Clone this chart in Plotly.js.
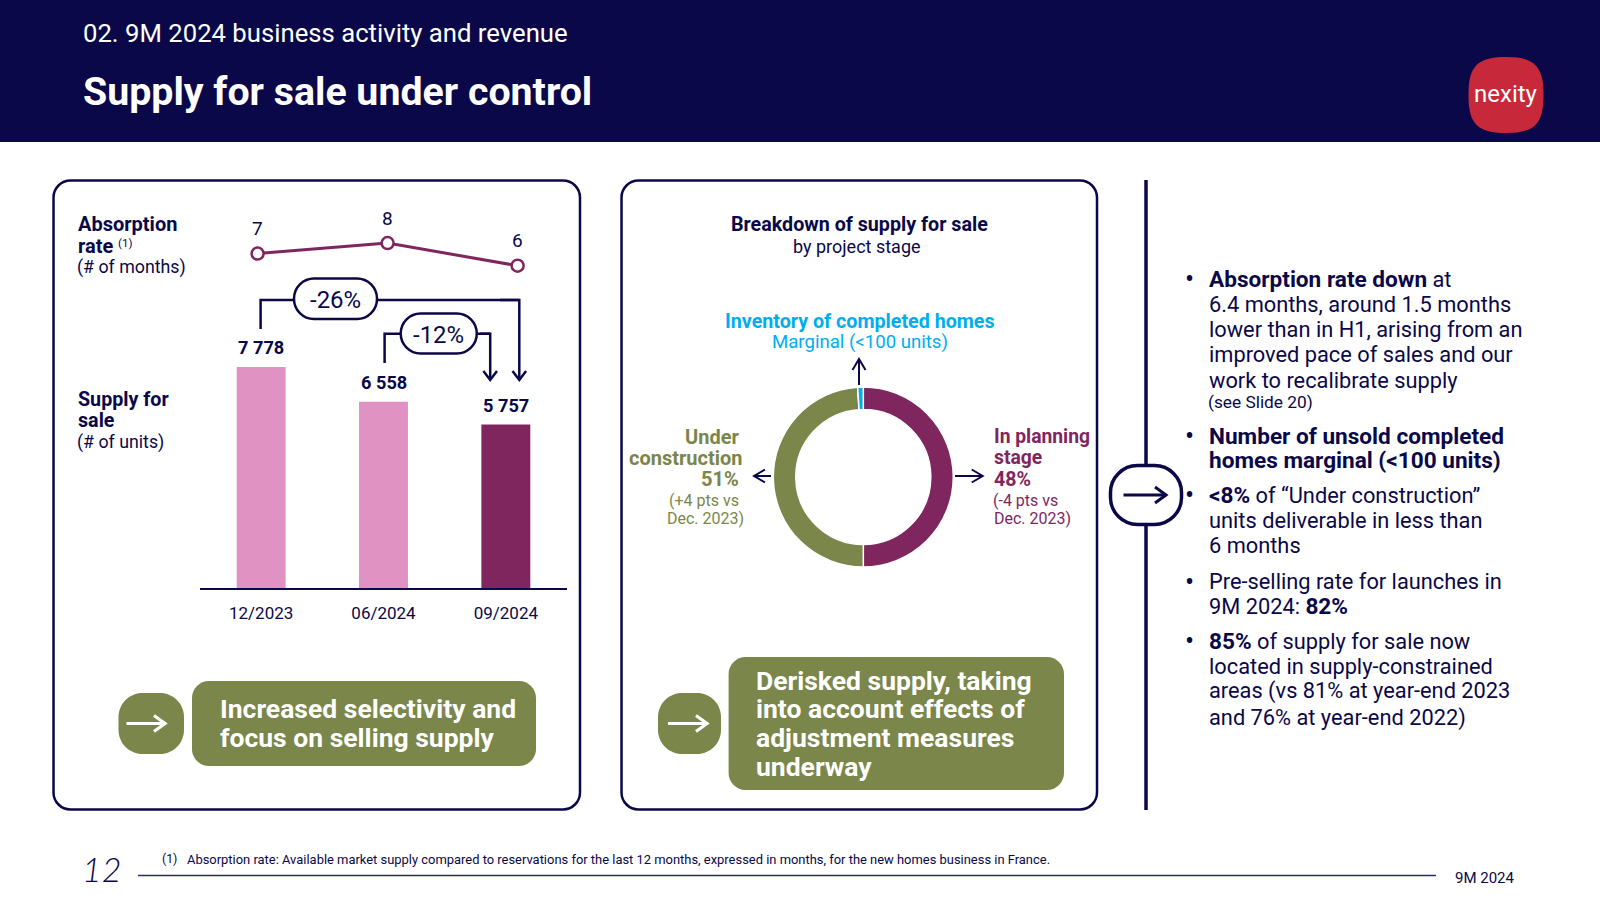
<!DOCTYPE html>
<html><head><meta charset="utf-8">
<script src="https://cdn.plot.ly/plotly-3.0.1.min.js"></script>
<style>html,body{margin:0;padding:0;background:#fff}#c{width:1600px;height:900px}</style>
</head><body><div id="c"></div>
<script>
const periods = ['12/2023','06/2024','09/2024'];
const supplyUnits = [7778,6558,5757];
const supplyLabels = ['7 778','6 558','5 757'];
const absorptionMonths = [7.2,7.9,6.4];
const absorptionLabels = ['7','8','6'];
const stageNames = ['In planning stage','Under construction','Inventory of completed homes'];
const stageShares = [50,49,1];

const NAVY='#0A0849', PINK='#E093C3', PLUM='#80265F', GREEN='#7A864A', BLUE='#00AEEF', RED='#C8293A';
const FONT='Roboto, sans-serif';
const W=1600,H=900;
const px=x=>x/W, py=y=>1-y/H;
const P=(x,y)=>px(x).toFixed(5)+','+py(y).toFixed(5);

function rr(x0,y0,x1,y1,r,k){k=k||0.55;const c=r*(1-k);
 return 'M'+P(x0+r,y0)+' L'+P(x1-r,y0)+' C'+P(x1-c,y0)+' '+P(x1,y0+c)+' '+P(x1,y0+r)+
 ' L'+P(x1,y1-r)+' C'+P(x1,y1-c)+' '+P(x1-c,y1)+' '+P(x1-r,y1)+
 ' L'+P(x0+r,y1)+' C'+P(x0+c,y1)+' '+P(x0,y1-c)+' '+P(x0,y1-r)+
 ' L'+P(x0,y0+r)+' C'+P(x0,y0+c)+' '+P(x0+c,y0)+' '+P(x0+r,y0)+' Z';}
const shapes=[];
function box(x0,y0,x1,y1,r,fill,stroke,w,k,layer){shapes.push({type:'path',xref:'paper',yref:'paper',path:rr(x0,y0,x1,y1,r,k),
 fillcolor:fill||'rgba(0,0,0,0)',line:{color:stroke||'rgba(0,0,0,0)',width:stroke?w:0},layer:layer||'above'});}
function poly(pts,color,w){shapes.push({type:'path',xref:'paper',yref:'paper',
 path:pts.map((p,i)=>(i?'L':'M')+P(p[0],p[1])).join(' '),line:{color:color,width:w},fillcolor:'rgba(0,0,0,0)',layer:'above'});}
function arrow(pts,color,w,back,half){poly(pts,color,w);const a=pts[pts.length-1],b=pts[pts.length-2];
 const dx=Math.sign(a[0]-b[0]),dy=Math.sign(a[1]-b[1]);
 poly([[a[0]-dx*back-dy*half,a[1]-dy*back-dx*half],a,[a[0]-dx*back+dy*half,a[1]-dy*back+dx*half]],color,w);}

const ann=[];
function t(x,y,text,size,color,opt){opt=opt||{};ann.push({xref:'paper',yref:'paper',x:px(x),y:py(y),text:text,showarrow:false,
 xanchor:opt.a||'left',yanchor:'middle',align:opt.a||'left',borderpad:0,
 font:{family:opt.f||FONT,size:size,color:color,weight:opt.w||400,style:opt.s||'normal'}});}
const BS=s=>'<span style="font-size:22.6px;font-weight:700">'+s+'</span>';

// header
shapes.push({type:'rect',xref:'paper',yref:'paper',x0:0,x1:1,y0:py(142),y1:1,fillcolor:NAVY,line:{width:0},layer:'below'});
t(82,33,'02. 9M 2024 business activity and revenue',25.7,'#fff');
t(82,92,'Supply for sale under control',39.3,'#fff',{w:700});
box(1468.5,57,1543.5,133,37,RED,null,0,0.75);
t(1505.5,94,'nexity',24,'#fff',{a:'center',w:400});

// cards
box(53.5,180.5,580,809.5,17,null,NAVY,2.5);
box(621.5,180.5,1097,809.5,17,null,NAVY,2.5);

// left panel labels
t(77,224,'Absorption',20,NAVY,{w:700});
t(77,246,'rate',20,NAVY,{w:700});
t(116.5,243,'(1)',11.5,NAVY);
t(76,267,'(# of months)',17.8,NAVY);
t(77,399,'Supply for',19.7,NAVY,{w:700});
t(77,420,'sale',19.7,NAVY,{w:700});
t(76,442,'(# of units)',17.8,NAVY);

// change brackets
poly([[260.6,329],[260.6,300],[519.3,300]],NAVY,2.5);
arrow([[500,300],[519.3,300],[519.3,380]],NAVY,2.5,9,6.8);
poly([[384.6,363],[384.6,333.7],[490.2,333.7]],NAVY,2.5);
arrow([[480,333.7],[490.2,333.7],[490.2,380]],NAVY,2.5,9,6.8);
box(294,278.5,377,319,20,'#fff',NAVY,2.5);
box(400.7,313.5,476.8,353.5,20,'#fff',NAVY,2.5);
t(335,299.5,'-26%',24,NAVY,{a:'center'});
t(438.2,335,'-12%',24,NAVY,{a:'center'});

// left callout
box(118.5,693,184,754,24,GREEN);
arrow([[126.5,723.5],[165,723.5]],'#fff',3.2,11,8);
box(192,681,536,766,17,GREEN);
t(218.5,708.5,'Increased selectivity and',26.5,'#fff',{w:700});
t(218.5,737.5,'focus on selling supply',26.5,'#fff',{w:700});

// middle panel text
t(859,224.5,'Breakdown of supply for sale',19.7,NAVY,{a:'center',w:700});
t(857,246.5,'by project stage',18,NAVY,{a:'center'});
t(859.5,321.5,'Inventory of completed homes',19.7,BLUE,{a:'center',w:700});
t(860,342,'Marginal (&lt;100 units)',18.6,BLUE,{a:'center'});
arrow([[859,385],[859,359]],NAVY,2,11,6.5);
arrow([[771,476],[754,476]],NAVY,2,11,6.5);
arrow([[955,476],[982.7,476]],NAVY,2,11,6.5);
t(739.5,436.5,'Under',20,GREEN,{a:'right',w:700});
t(743,457.5,'construction',20,GREEN,{a:'right',w:700});
t(739.5,479,'51%',20,GREEN,{a:'right',w:700});
t(740,500,'(+4 pts vs',16,GREEN,{a:'right'});
t(744.5,518,'Dec. 2023)',16,GREEN,{a:'right'});
t(992.5,436.5,'In planning',19.3,PLUM,{w:700});
t(992.5,457.5,'stage',19.3,PLUM,{w:700});
t(992.5,479,'48%',19.6,PLUM,{w:700});
t(992,500,'(-4 pts vs',16,PLUM);
t(992.5,518,'Dec. 2023)',16,PLUM);

// middle callout
box(658,693,721,754,24,GREEN);
arrow([[668,723.5],[707,723.5]],'#fff',3.2,11,8);
box(728.6,657,1064,790,17,GREEN);
t(755,680.5,'Derisked supply, taking',26.5,'#fff',{w:700});
t(755,708.5,'into account effects of',26.5,'#fff',{w:700});
t(755,737.5,'adjustment measures',26.5,'#fff',{w:700});
t(755,766,'underway',26.5,'#fff',{w:700});

// right column
poly([[1146,180],[1146,810]],NAVY,3.5);
box(1110.5,465.5,1181.5,524.5,27,'#fff',NAVY,3.5);
arrow([[1123.5,495],[1166,495]],NAVY,3,11,8);
[279.5,436,495,581.5,641].forEach(y=>t(1189.5,y,'•',27,NAVY,{a:'center'}));
const fs=21.8, X=1207.5;
t(X,279.5,BS('Absorption rate down')+' at',fs,NAVY);
t(X,304.5,'6.4 months, around 1.5 months',fs,NAVY);
t(X,329,'lower than in H1, arising from an',fs,NAVY);
t(X,354,'improved pace of sales and our',fs,NAVY);
t(X,380,'work to recalibrate supply',fs,NAVY);
t(X-1,401.5,'(see Slide 20)',17.3,NAVY);
t(X,436,BS('Number of unsold completed'),fs,NAVY);
t(X,460.5,BS('homes marginal (&lt;100 units)'),fs,NAVY);
t(X,495,BS('&lt;8%')+' of “Under construction”',fs,NAVY);
t(X,520.5,'units deliverable in less than',fs,NAVY);
t(X,545,'6 months',fs,NAVY);
t(X,581.5,'Pre-selling rate for launches in',fs,NAVY);
t(X,606,'9M 2024: '+BS('82%'),fs,NAVY);
t(X,641,BS('85%')+' of supply for sale now',fs,NAVY);
t(X,666.5,'located in supply-constrained',fs,NAVY);
t(X,691,'areas (vs 81% at year-end 2023',fs,NAVY);
t(X,717.5,'and 76% at year-end 2022)',fs,NAVY);

// footer
t(81,868,'12',34,NAVY,{f:'Lato, sans-serif',s:'italic',w:300});
t(161,859,'(1)',12.3,NAVY);
t(185.5,859,'Absorption rate: Available market supply compared to reservations for the last 12 months, expressed in months, for the new homes business in France.',12.93,NAVY);
poly([[138,875.5],[1436,875.5]],'#2A2A6E',1.5);
t(1453.5,877.5,'9M 2024',15,NAVY);

// value labels through the axes
periods.forEach((p,i)=>{
 ann.push({xref:'x',yref:'y',x:p,y:supplyUnits[i],yshift:19.5,text:supplyLabels[i],showarrow:false,xanchor:'center',yanchor:'middle',borderpad:0,
  font:{family:FONT,size:18.2,color:NAVY,weight:700}});
 ann.push({xref:'x2',yref:'y2',x:p,y:absorptionMonths[i],yshift:25,text:absorptionLabels[i],showarrow:false,xanchor:'center',yanchor:'middle',borderpad:0,
  font:{family:FONT,size:19,color:NAVY}});
});

const traces=[
 {type:'bar',x:periods,y:supplyUnits,xaxis:'x',yaxis:'y',width:0.4,
  marker:{color:[PINK,PINK,PLUM],line:{width:0}},hoverinfo:'skip'},
 {type:'scatter',mode:'lines+markers',x:periods,y:absorptionMonths,xaxis:'x2',yaxis:'y2',
  line:{color:PLUM,width:3},marker:{size:12,color:'#fff',line:{color:PLUM,width:2.5}},
  cliponaxis:false,hoverinfo:'skip'},
 {type:'pie',labels:stageNames,values:stageShares,hole:0.75,sort:false,direction:'clockwise',rotation:0,
  domain:{x:[px(773.3),px(953.3)],y:[py(567),py(387)]},
  marker:{colors:[PLUM,GREEN,BLUE],line:{color:'#fff',width:1.5}},
  textinfo:'none',hoverinfo:'skip',showlegend:false}
];
const layout={width:W,height:H,margin:{l:0,r:0,t:0,b:0},paper_bgcolor:'#fff',plot_bgcolor:'rgba(0,0,0,0)',showlegend:false,
 xaxis:{domain:[px(200),px(567)],range:[-0.5,2.5],type:'category',anchor:'y',showline:true,linecolor:NAVY,linewidth:1.5,
  ticks:'outside',ticklen:9,tickcolor:'rgba(0,0,0,0)',showgrid:false,zeroline:false,
  tickfont:{family:FONT,size:17,color:NAVY},automargin:false},
 yaxis:{domain:[py(588.3),py(360.7)],range:[0,8000],anchor:'x',visible:false,showgrid:false,zeroline:false},
 xaxis2:{domain:[px(200),px(567)],range:[-0.443,2.38],type:'category',anchor:'y2',visible:false},
 yaxis2:{domain:[py(285),py(225)],range:[5.122,9.095],anchor:'x2',visible:false,showgrid:false,zeroline:false},
 shapes:shapes,annotations:ann};
Plotly.newPlot('c',traces,layout,{displayModeBar:false,staticPlot:true});
</script></body></html>
